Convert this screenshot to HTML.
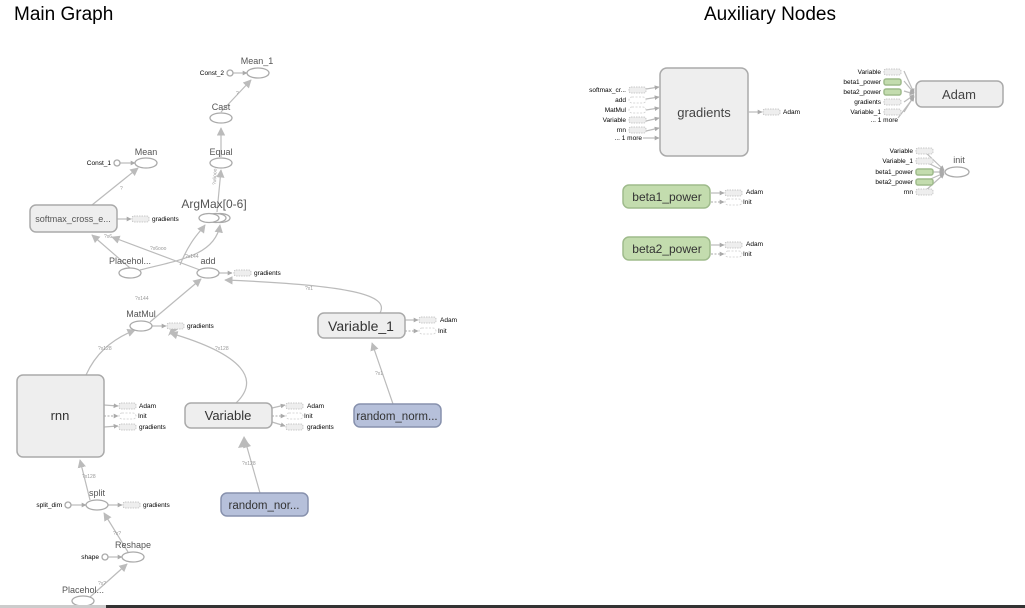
<!DOCTYPE html>
<html><head><meta charset="utf-8"><style>
html,body{margin:0;padding:0;background:#fff;width:1025px;height:608px;overflow:hidden}
svg{display:block;font-family:"Liberation Sans",sans-serif}
.t{fill:#555;font-size:9px}
.s{fill:#000;font-size:6.5px}
.e{fill:#fff;stroke:#aaa;stroke-width:1.3}
.box{fill:#eee;stroke:#aaa;stroke-width:1.5}
.ed{fill:none;stroke:#bbb;stroke-width:1.2}
.st{fill:#eee;stroke:#bbb;stroke-width:0.8;stroke-dasharray:1.5 1}
.ds{fill:none;stroke:#ccc;stroke-width:0.8;stroke-dasharray:2 1.5}
.gr{fill:#c3dcae;stroke:#9fbb8c;stroke-width:1.5}
.bl{fill:#b6c0da;stroke:#8791ad;stroke-width:1.5}
.el{fill:#999;font-size:5px}
</style></head><body>
<svg width="1025" height="608" viewBox="0 0 1025 608">
<defs><marker id="a" viewBox="0 0 10 10" refX="9" refY="5" markerWidth="7" markerHeight="7" orient="auto"><path d="M0 0L10 5L0 10z" fill="#bbb"/></marker>
<marker id="b" viewBox="0 0 10 10" refX="9" refY="5" markerWidth="4" markerHeight="4" orient="auto"><path d="M0 0L10 5L0 10z" fill="#aaa"/></marker></defs>
<text x="14" y="20" font-size="19" fill="#000">Main Graph</text>
<text x="704" y="20" font-size="19" fill="#000">Auxiliary Nodes</text>

<!-- edges main -->
<g class="ed" marker-end="url(#a)">
<path d="M221 112 L251 80"/>
<path d="M221 157 L221 128"/>
<path d="M217 212 L221 170"/>
<path d="M92 205 L138 168"/>
<path d="M130 268 L92 235"/>
<path d="M200 270 L112 237"/>
<path d="M140 270 C180 260 215 255 220 225"/>
<path d="M180 265 C190 240 200 232 205 225"/>
<path d="M150 322 L201 279"/>
<path d="M86 375 C95 355 110 340 135 330"/>
<path d="M380 313 C390 295 350 285 225 280"/>
<path d="M236 403 C260 380 245 355 170 333"/>
<path d="M260 493 L245 440"/>
<path d="M393 404 L372 343"/>
<path d="M90 500 L80 460"/>
<path d="M128 552 L104 513"/>
<path d="M90 597 L127 564"/>
</g>
<g class="ed" stroke-width="1" marker-end="url(#b)">
<path d="M233 73 L247 73"/><path d="M120 163 L135 163"/>
<path d="M71 505 L86 505"/><path d="M108 557 L122 557"/>
<path d="M117 219 L131 219"/><path d="M219 273 L232 273"/>
<path d="M152 326 L166 326"/><path d="M108 505 L122 505"/>
<path d="M405 320 L418 320"/><path d="M405 331 L418 331" stroke-dasharray="2 1.5"/>
<path d="M104 405 L118 406"/><path d="M104 416 L118 416" stroke-dasharray="2 1.5"/><path d="M104 427 L118 426"/>
<path d="M272 408 L285 405"/><path d="M272 416 L285 416" stroke-dasharray="2 1.5"/><path d="M272 422 L285 426"/>
</g>
<path d="M168 336 L180 328 L172 326z" fill="#bbb"/>
<path d="M238 448 L244 436 L250 446z" fill="#bbb"/>

<g class="el">
<text x="120" y="190">?</text><text x="236" y="95">?</text><text x="216" y="185" transform="rotate(-88 216 185)">?x6ooo</text>
<text x="150" y="250">?x6ooo</text><text x="104" y="238">?x6</text><text x="185" y="258">?x144</text>
<text x="135" y="300">?x144</text><text x="98" y="350">?x128</text><text x="305" y="290">?x1</text>
<text x="215" y="350">?x128</text><text x="242" y="465">?x128</text><text x="375" y="375">?x1</text>
<text x="82" y="478">?x128</text><text x="113" y="535">?x?</text><text x="98" y="585">?x?</text>
</g>

<!-- nodes main -->
<ellipse class="e" cx="258" cy="73" rx="11" ry="5"/><text class="t" x="257" y="64" text-anchor="middle">Mean_1</text>
<circle class="e" cx="230" cy="73" r="3"/><text class="s" x="224" y="75" text-anchor="end">Const_2</text>
<ellipse class="e" cx="221" cy="118" rx="11" ry="5"/><text class="t" x="221" y="110" text-anchor="middle">Cast</text>
<ellipse class="e" cx="221" cy="163" rx="11" ry="5"/><text class="t" x="221" y="155" text-anchor="middle">Equal</text>
<ellipse class="e" cx="146" cy="163" rx="11" ry="5"/><text class="t" x="146" y="155" text-anchor="middle">Mean</text>
<circle class="e" cx="117" cy="163" r="3"/><text class="s" x="111" y="165" text-anchor="end">Const_1</text>
<ellipse class="e" cx="220" cy="218" rx="10" ry="4.5"/><ellipse class="e" cx="216" cy="218" rx="10" ry="4.5"/><ellipse class="e" cx="209" cy="218" rx="10" ry="4.5"/>
<text x="214" y="208" font-size="12" fill="#555" text-anchor="middle">ArgMax[0-6]</text>
<rect class="box" x="30" y="205" width="87" height="27" rx="6"/><text class="t" x="73" y="222" text-anchor="middle">softmax_cross_e...</text>
<rect class="st" x="132" y="216" width="17" height="6" rx="2"/><text class="s" x="152" y="221">gradients</text>
<ellipse class="e" cx="130" cy="273" rx="11" ry="5"/><text class="t" x="130" y="264" text-anchor="middle">Placehol...</text>
<ellipse class="e" cx="208" cy="273" rx="11" ry="5"/><text class="t" x="208" y="264" text-anchor="middle">add</text>
<rect class="st" x="234" y="270" width="17" height="6" rx="2"/><text class="s" x="254" y="275">gradients</text>
<ellipse class="e" cx="141" cy="326" rx="11" ry="5"/><text class="t" x="141" y="317" text-anchor="middle">MatMul</text>
<rect class="st" x="167" y="323" width="17" height="6" rx="2"/><text class="s" x="187" y="328">gradients</text>
<rect class="box" x="318" y="313" width="87" height="25" rx="6"/><text x="361" y="331" font-size="14" fill="#333" text-anchor="middle">Variable_1</text>
<rect class="st" x="419" y="317" width="17" height="6" rx="2"/><text class="s" x="440" y="322">Adam</text>
<rect class="ds" x="419" y="328" width="17" height="6" rx="3"/><text class="s" x="438" y="333">Init</text>
<rect class="box" x="17" y="375" width="87" height="82" rx="6"/><text x="60" y="420" font-size="13" fill="#333" text-anchor="middle">rnn</text>
<rect class="st" x="119" y="403" width="17" height="6" rx="2"/><text class="s" x="139" y="408">Adam</text>
<rect class="ds" x="119" y="413" width="17" height="6" rx="3"/><text class="s" x="138" y="418">Init</text>
<rect class="st" x="119" y="424" width="17" height="6" rx="2"/><text class="s" x="139" y="429">gradients</text>
<rect class="box" x="185" y="403" width="87" height="25" rx="6"/><text x="228" y="420" font-size="13" fill="#333" text-anchor="middle">Variable</text>
<rect class="st" x="286" y="403" width="17" height="6" rx="2"/><text class="s" x="307" y="408">Adam</text>
<rect class="ds" x="286" y="413" width="17" height="6" rx="3"/><text class="s" x="304" y="418">Init</text>
<rect class="st" x="286" y="424" width="17" height="6" rx="2"/><text class="s" x="307" y="429">gradients</text>
<rect class="bl" x="354" y="404" width="87" height="23" rx="6"/><text x="397" y="420" font-size="11.5" fill="#333" text-anchor="middle">random_norm...</text>
<rect class="bl" x="221" y="493" width="87" height="23" rx="6"/><text x="264" y="509" font-size="11.5" fill="#333" text-anchor="middle">random_nor...</text>
<ellipse class="e" cx="97" cy="505" rx="11" ry="5"/><text class="t" x="97" y="496" text-anchor="middle">split</text>
<circle class="e" cx="68" cy="505" r="3"/><text class="s" x="62" y="507" text-anchor="end">split_dim</text>
<rect class="st" x="123" y="502" width="17" height="6" rx="2"/><text class="s" x="143" y="507">gradients</text>
<ellipse class="e" cx="133" cy="557" rx="11" ry="5"/><text class="t" x="133" y="548" text-anchor="middle">Reshape</text>
<circle class="e" cx="105" cy="557" r="3"/><text class="s" x="99" y="559" text-anchor="end">shape</text>
<ellipse class="e" cx="83" cy="601" rx="11" ry="5"/><text class="t" x="83" y="593" text-anchor="middle">Placehol...</text>
<rect x="0" y="605" width="106" height="3" fill="#ccc"/><rect x="106" y="605" width="919" height="3" fill="#333"/>

<!-- aux -->
<rect class="box" x="660" y="68" width="88" height="88" rx="7"/><text x="704" y="117" font-size="13" fill="#444" text-anchor="middle">gradients</text>
<g class="ed" stroke-width="1" marker-end="url(#b)">
<path d="M646 89 L659 87"/><path d="M646 99 L659 97"/><path d="M646 110 L659 108"/><path d="M646 121 L659 118"/><path d="M646 131 L659 128"/><path d="M643 138 L659 138"/>
<path d="M748 112 L762 112"/>
<path d="M904 71 L914 93"/><path d="M904 81 L914 93"/><path d="M904 91 L914 94"/><path d="M904 102 L914 95"/><path d="M904 112 L914 96"/><path d="M898 118 L914 97"/>
<path d="M924 151 L944 170"/><path d="M924 161 L944 171"/><path d="M924 172 L944 172"/><path d="M924 182 L944 173"/><path d="M924 192 L944 174"/>
<path d="M711 193 L724 193"/><path d="M711 202 L724 202" stroke-dasharray="2 1.5"/>
<path d="M711 245 L724 245"/><path d="M711 254 L724 254" stroke-dasharray="2 1.5"/>
</g>
<rect class="st" x="629" y="87" width="17" height="6" rx="2"/><text class="s" x="626" y="92" text-anchor="end">softmax_cr...</text>
<rect class="ds" x="629" y="97" width="17" height="6" rx="3"/><text class="s" x="626" y="102" text-anchor="end">add</text>
<rect class="ds" x="629" y="107" width="17" height="6" rx="3"/><text class="s" x="626" y="112" text-anchor="end">MatMul</text>
<rect class="st" x="629" y="117" width="17" height="6" rx="2"/><text class="s" x="626" y="122" text-anchor="end">Variable</text>
<rect class="st" x="629" y="127" width="17" height="6" rx="2"/><text class="s" x="626" y="132" text-anchor="end">rnn</text>
<text class="s" x="642" y="140" text-anchor="end">... 1 more</text>
<rect class="st" x="763" y="109" width="17" height="6" rx="2"/><text class="s" x="783" y="114">Adam</text>
<rect class="gr" x="623" y="185" width="87" height="23" rx="6"/><text x="667" y="201" font-size="12" fill="#333" text-anchor="middle">beta1_power</text>
<rect class="st" x="725" y="190" width="17" height="6" rx="2"/><text class="s" x="746" y="194">Adam</text>
<rect class="ds" x="725" y="199" width="17" height="6" rx="3"/><text class="s" x="743" y="204">Init</text>
<rect class="gr" x="623" y="237" width="87" height="23" rx="6"/><text x="667" y="253" font-size="12" fill="#333" text-anchor="middle">beta2_power</text>
<rect class="st" x="725" y="242" width="17" height="6" rx="2"/><text class="s" x="746" y="246">Adam</text>
<rect class="ds" x="725" y="251" width="17" height="6" rx="3"/><text class="s" x="743" y="256">Init</text>
<rect class="box" x="916" y="81" width="87" height="26" rx="6"/><text x="959" y="99" font-size="13" fill="#444" text-anchor="middle">Adam</text>
<rect class="st" x="884" y="69" width="17" height="6" rx="2"/><text class="s" x="881" y="74" text-anchor="end">Variable</text>
<rect class="gr" x="884" y="79" width="17" height="6" rx="2" stroke-width="0.8"/><text class="s" x="881" y="84" text-anchor="end">beta1_power</text>
<rect class="gr" x="884" y="89" width="17" height="6" rx="2" stroke-width="0.8"/><text class="s" x="881" y="94" text-anchor="end">beta2_power</text>
<rect class="st" x="884" y="99" width="17" height="6" rx="2"/><text class="s" x="881" y="104" text-anchor="end">gradients</text>
<rect class="st" x="884" y="109" width="17" height="6" rx="2"/><text class="s" x="881" y="114" text-anchor="end">Variable_1</text>
<text class="s" x="898" y="122" text-anchor="end">... 1 more</text>
<ellipse class="e" cx="957" cy="172" rx="12" ry="5"/><text class="t" x="959" y="163" text-anchor="middle">init</text>
<rect class="st" x="916" y="148" width="17" height="6" rx="2"/><text class="s" x="913" y="153" text-anchor="end">Variable</text>
<rect class="st" x="916" y="158" width="17" height="6" rx="2"/><text class="s" x="913" y="163" text-anchor="end">Variable_1</text>
<rect class="gr" x="916" y="169" width="17" height="6" rx="2" stroke-width="0.8"/><text class="s" x="913" y="174" text-anchor="end">beta1_power</text>
<rect class="gr" x="916" y="179" width="17" height="6" rx="2" stroke-width="0.8"/><text class="s" x="913" y="184" text-anchor="end">beta2_power</text>
<rect class="st" x="916" y="189" width="17" height="6" rx="2"/><text class="s" x="913" y="194" text-anchor="end">rnn</text>
</svg>
</body></html>
